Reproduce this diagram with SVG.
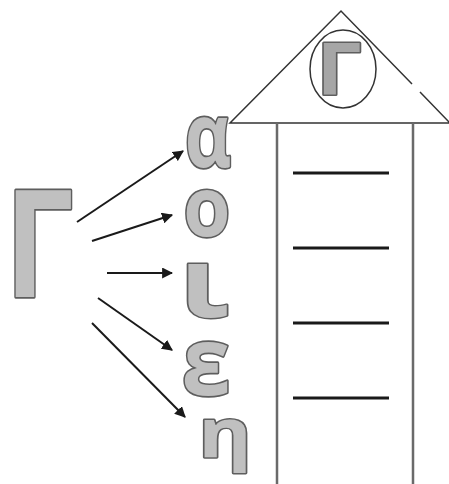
<svg xmlns="http://www.w3.org/2000/svg" width="449" height="484" viewBox="0 0 449 484">
<defs>
<style>
.lt{font-family:"Open Sans","Noto Sans","Liberation Sans",sans-serif;font-weight:700;fill:#c0c0c0;stroke:#5e5e5e;stroke-width:3.2;stroke-linejoin:round;paint-order:stroke;text-anchor:middle;vector-effect:non-scaling-stroke;}
.ar{stroke:#1a1a1a;stroke-width:2;fill:none;marker-end:url(#ah);}
.rung{stroke:#1a1a1a;stroke-width:3;}
.ln{stroke:#333;stroke-width:1.5;fill:none;}
.wall{stroke:#6a6a6a;stroke-width:2.5;}
</style>
<marker id="ah" viewBox="0 0 10 10" refX="9" refY="5" markerWidth="5.5" markerHeight="5.5" orient="auto" markerUnits="strokeWidth">
<path d="M0,0 L10,5 L0,10 z" fill="#1a1a1a"/>
</marker>
</defs>
<rect width="449" height="484" fill="#fff"/>
<g id="house">
<path class="ln" d="M412,84 L341,11 L230,123 L449,123 M420,92 L449,122"/>
<line class="wall" x1="277" y1="123" x2="277" y2="484"/>
<line class="wall" x1="413" y1="123" x2="413" y2="484"/>
<line class="rung" x1="293" y1="173" x2="389" y2="173"/>
<line class="rung" x1="293" y1="248" x2="389" y2="248"/>
<line class="rung" x1="293" y1="323" x2="389" y2="323"/>
<line class="rung" x1="293" y1="398" x2="389" y2="398"/>
</g>
<g id="roof-letter">
<ellipse class="ln" cx="343" cy="69" rx="33" ry="39"/>
<text class="lt" transform="translate(339,94) scale(1.1,1)" font-size="72" style="fill:#a6a6a6">Γ</text>
</g>
<g id="gamma">
<text class="lt" transform="translate(39,297) scale(0.82,1)" font-size="149">Γ</text>
</g>
<g id="alpha"><text class="lt" transform="translate(208,167) scale(0.8,1)" font-size="90">α</text></g>
<g id="omicron"><text class="lt" transform="translate(207,236) scale(0.92,1)" font-size="83">ο</text></g>
<g id="iota"><text class="lt" transform="translate(204,317) scale(1.28,1)" font-size="97">ι</text></g>
<g id="epsilon"><text class="lt" transform="translate(206,395) scale(0.93,1)" font-size="95">ε</text></g>
<g id="eta"><text class="lt" transform="translate(225,457) scale(1.18,1)" font-size="69">η</text></g>
<g id="connectors">
<line class="ar" x1="77" y1="222" x2="183" y2="151"/>
<line class="ar" x1="92" y1="241" x2="172" y2="215"/>
<line class="ar" x1="107" y1="273" x2="172" y2="273"/>
<line class="ar" x1="98" y1="298" x2="172" y2="350"/>
<line class="ar" x1="92" y1="323" x2="185" y2="417"/>
</g>
</svg>
